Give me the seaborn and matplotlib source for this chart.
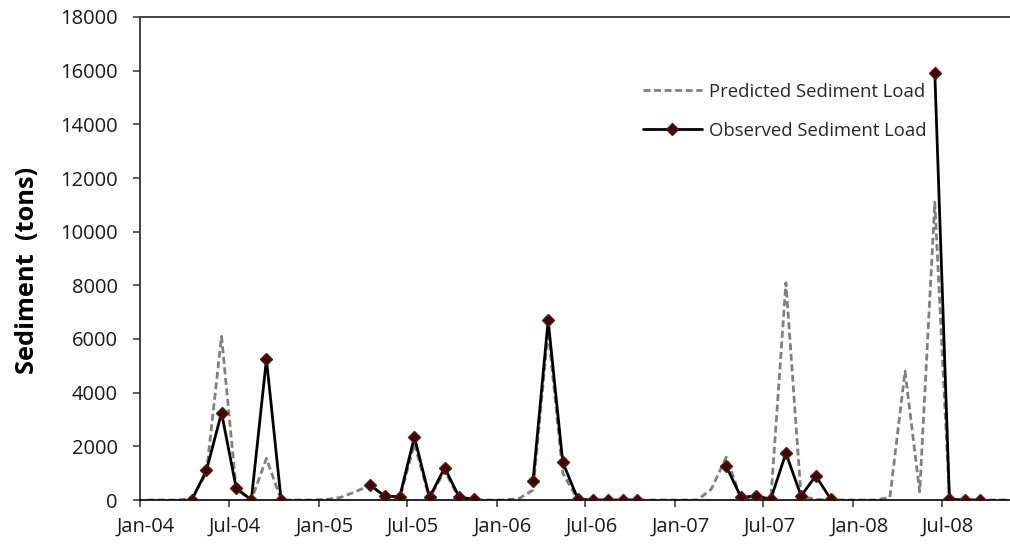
import matplotlib
matplotlib.use("Agg")
import matplotlib.pyplot as plt
import matplotlib.dates as mdates
import matplotlib.transforms as mtransforms
from matplotlib.lines import Line2D
import numpy as np
import pandas as pd
import seaborn as sns

# Monthly record, Jan 2004 - Nov 2008
months = pd.date_range("2004-01-01", periods=59, freq="MS")

predicted = [
    0, 0, 0, 50, 1000, 6100, 400, 0, 1550, 0, 0, 0,          # 2004
    20, 100, 300, 550, 150, 50, 2100, 50, 1100, 40, 10, 0,    # 2005
    0, 60, 370, 6300, 1000, 0, 0, 0, 0, 0, 0, 0,              # 2006
    0, 0, 400, 1600, 50, 30, 0, 8100, 150, 20, 0, 0,          # 2007
    0, 0, 100, 4800, 300, 11100, 0, 0, 0, 0, 0,              # 2008
]

nan = np.nan
observed = [
    nan, nan, nan, 0, 1100, 3250, 450, 0, 5250, 0, nan, nan,          # 2004
    nan, nan, nan, 560, 150, 120, 2350, 100, 1200, 100, 30, nan,      # 2005
    nan, nan, 700, 6700, 1400, 30, 0, 0, 0, 0, nan, nan,              # 2006
    nan, nan, nan, 1250, 100, 150, 30, 1750, 150, 900, 30, nan,       # 2007
    nan, nan, nan, nan, nan, 15900, 30, 0, 0, nan, nan,               # 2008
]

y_ticks = list(range(0, 18001, 2000))
legend_labels = ["Predicted Sediment Load", "Observed Sediment Load"]
y_label = "Sediment  (tons)"

# Points sit in the middle of each month
mid = months + pd.Timedelta(days=15)
pred_df = pd.DataFrame({"date": mid, "load": predicted})
obs_df = pd.DataFrame({"date": mid, "load": observed})
obs_df["segment"] = obs_df["load"].isna().cumsum()
obs_df = obs_df.dropna()

sns.set_style("white")
plt.rcParams["font.family"] = ["Open Sans", "DejaVu Sans"]

fig = plt.figure(figsize=(10.1, 5.5), dpi=100)
ax = fig.add_axes([140 / 1010, 1 - 500 / 550, 870 / 1010, 483 / 550])

pred_color = "#808080"
obs_color = "#000000"
marker_face = "#3b0a0a"
marker_edge = "#5e1616"

sns.lineplot(data=pred_df, x="date", y="load", ax=ax, color=pred_color,
             linewidth=2.0, dashes=False, estimator=None, zorder=2)
ax.lines[-1].set_dashes((2.5, 1.3))

sns.lineplot(data=obs_df, x="date", y="load", units="segment", estimator=None,
             ax=ax, color=obs_color, linewidth=2.0, marker="D", markersize=6,
             markerfacecolor=marker_face, markeredgecolor=marker_edge,
             markeredgewidth=1.0, zorder=3)

ax.set_xlim(pd.Timestamp("2004-01-01"), pd.Timestamp("2008-11-17"))
ax.set_ylim(0, 18000)
ax.set_yticks(y_ticks)
ax.set_yticklabels([str(v) for v in y_ticks])

ax.xaxis.set_major_locator(mdates.MonthLocator(bymonth=[1, 7]))
ax.xaxis.set_major_formatter(mdates.DateFormatter("%b-%y"))

ax.tick_params(axis="both", which="major", direction="out", length=5,
               width=1.2, color="#404040", labelsize=14.5, labelcolor="#1a1a1a")
ax.tick_params(axis="x", pad=7)
ax.tick_params(axis="y", pad=11)
ax.tick_params(left=True, bottom=True)

# nudge the date labels slightly right of their ticks
offset = mtransforms.ScaledTranslation(6 / 100, 0, fig.dpi_scale_trans)
for lbl in ax.get_xticklabels():
    lbl.set_transform(lbl.get_transform() + offset)

for side in ["left", "bottom", "top"]:
    ax.spines[side].set_visible(True)
    ax.spines[side].set_color("#404040")
    ax.spines[side].set_linewidth(1.4)
ax.spines["bottom"].set_color("#000000")
ax.spines["bottom"].set_linewidth(1.2)
ax.spines["right"].set_visible(False)

ax.set_xlabel("")
ax.set_ylabel(y_label, fontsize=18.3, fontweight="bold", color="#000000")
ax.yaxis.set_label_coords(-100 / 870, 0.475)

handles = [
    Line2D([], [], color=pred_color, linewidth=2.0, dashes=(2.5, 1.3)),
    Line2D([], [], color=obs_color, linewidth=2.0, marker="D", markersize=6,
           markerfacecolor=marker_face, markeredgecolor=marker_edge),
]
ax.legend(handles, legend_labels, loc="upper left",
          bbox_to_anchor=(626 / 1010, 1 - 66 / 550), bbox_transform=fig.transFigure,
          frameon=False, fontsize=13.3, handlelength=3.2, handletextpad=0.4,
          labelspacing=1.15, labelcolor="#262626")

fig.savefig("out.png", dpi=100)
